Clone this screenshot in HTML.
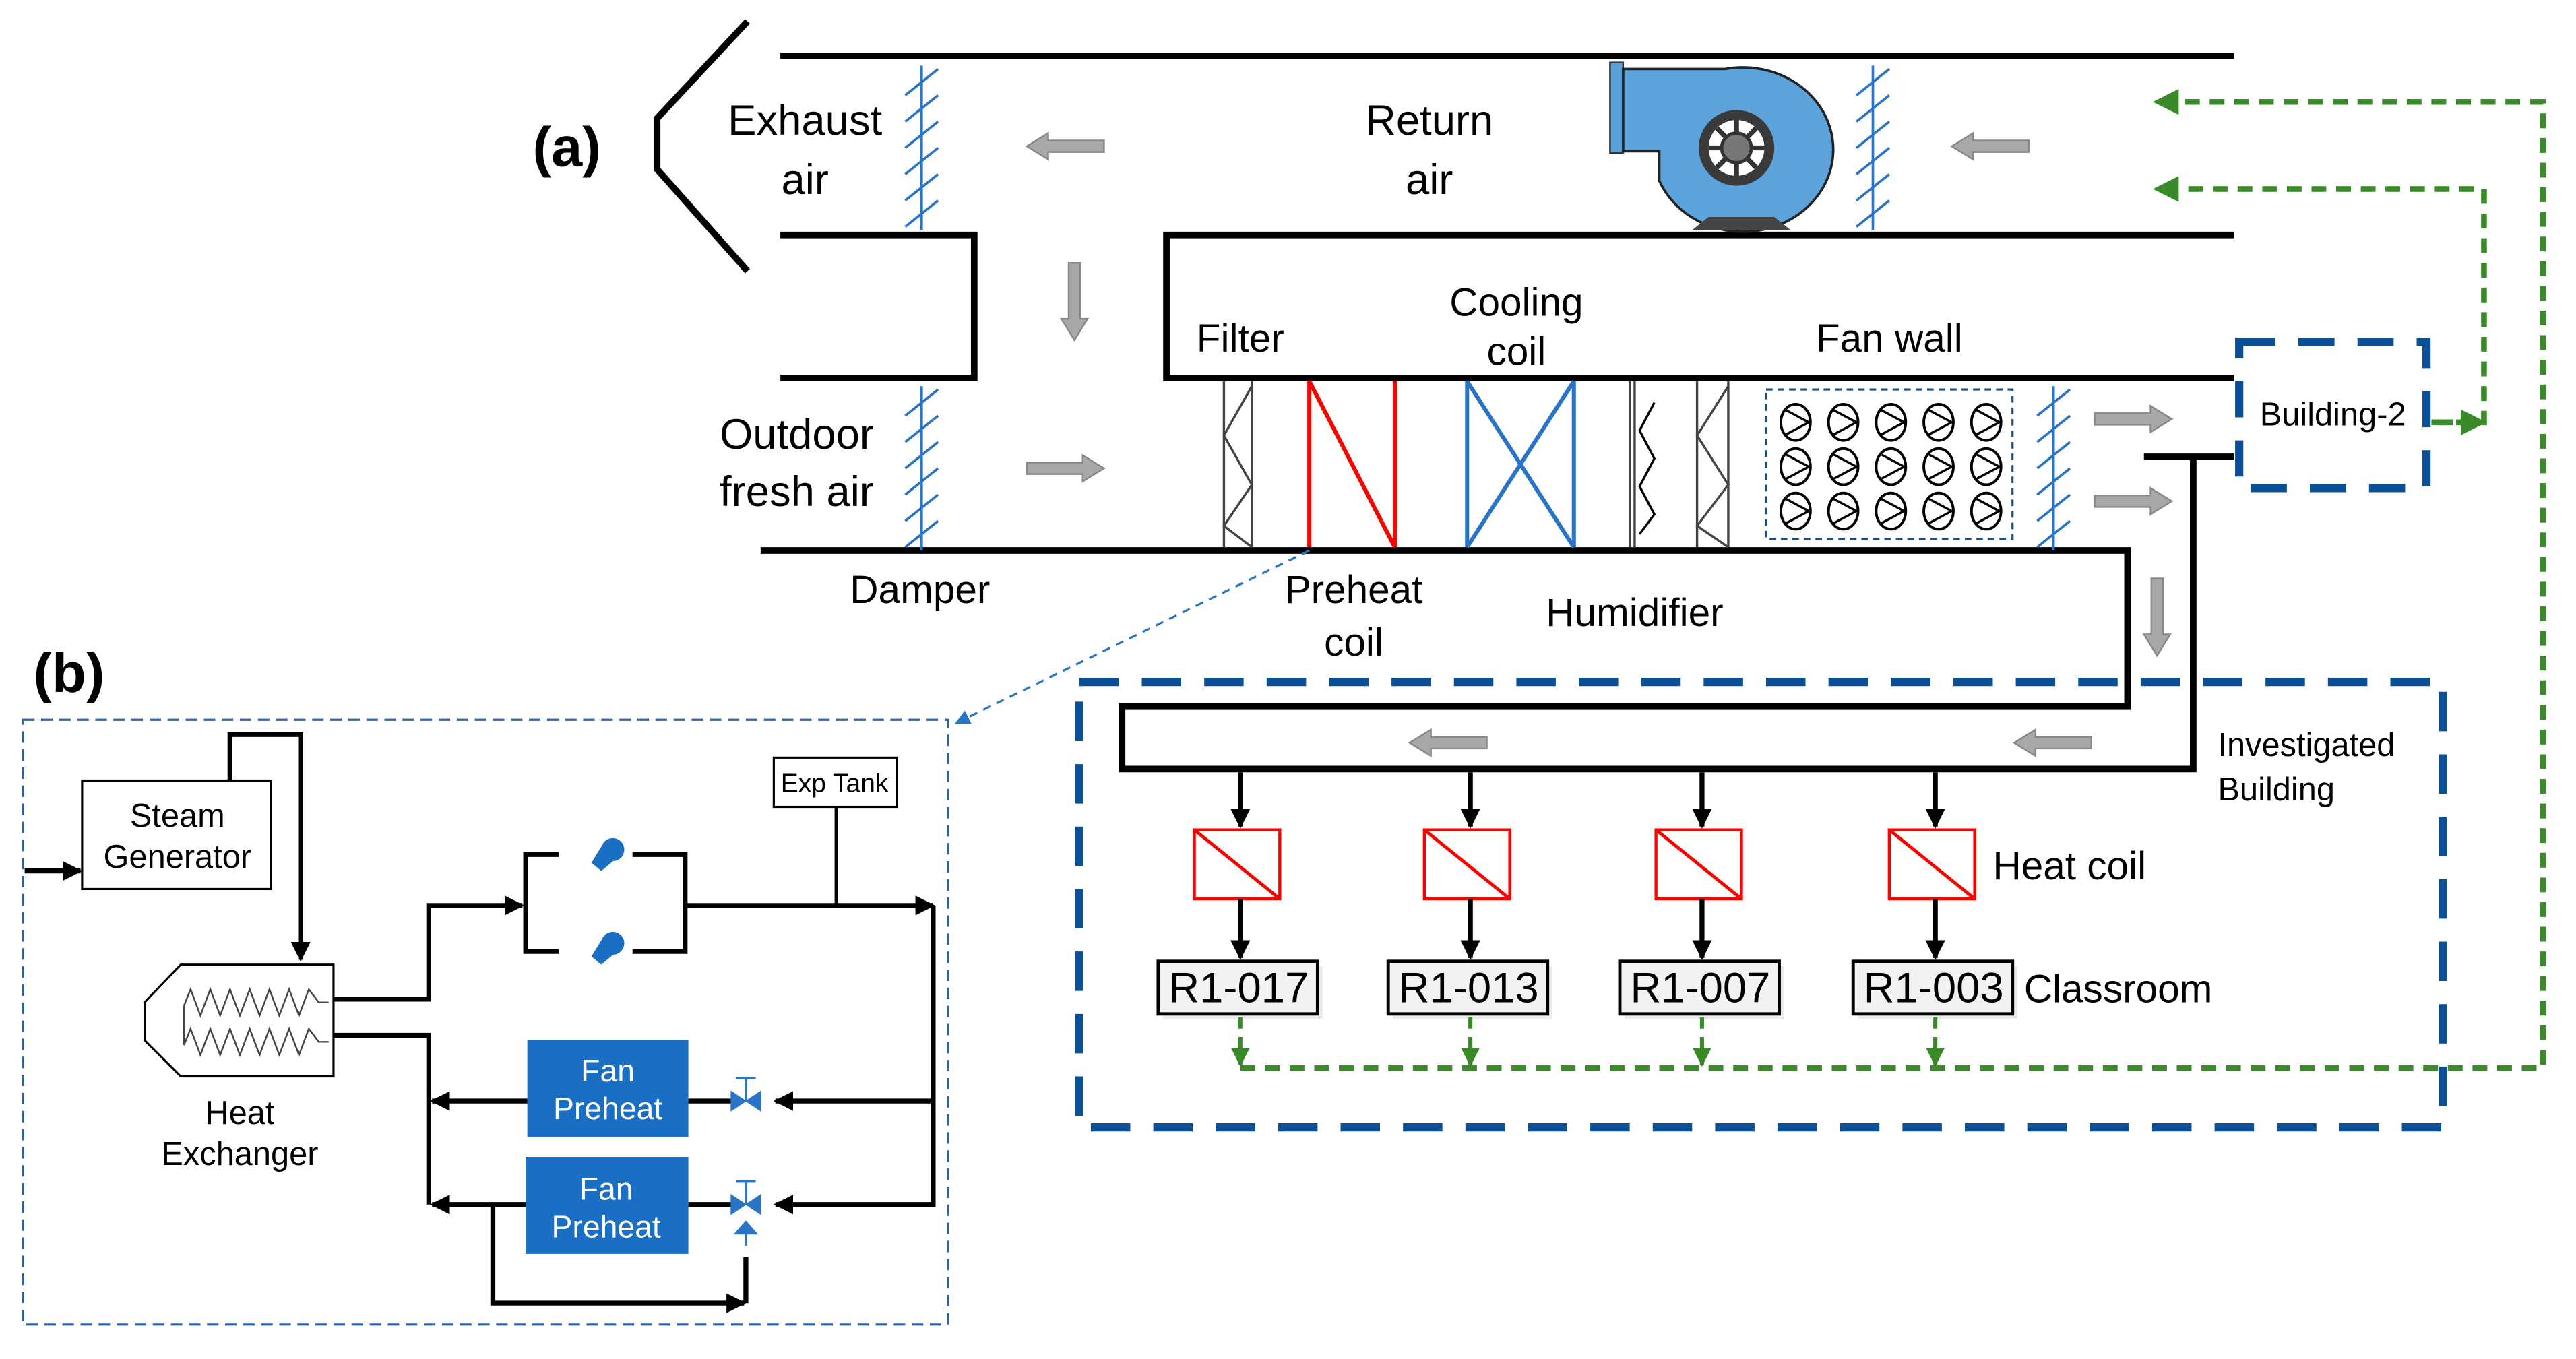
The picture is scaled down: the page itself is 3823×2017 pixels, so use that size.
<!DOCTYPE html>
<html><head><meta charset="utf-8"><style>html,body{margin:0;padding:0;background:#fff}svg{display:block}text{font-family:"Liberation Sans",Arial,sans-serif}</style></head><body>
<svg width="3823" height="2017" viewBox="0 0 1568 827" preserveAspectRatio="none" xmlns="http://www.w3.org/2000/svg">
<defs>
<marker id="ak" viewBox="0 0 10 10" refX="9" refY="5" markerWidth="4" markerHeight="4" orient="auto"><path d="M0,0L10,5L0,10z" fill="#000"/></marker>
<marker id="ag" viewBox="0 0 10 10" refX="9" refY="5" markerWidth="4.5" markerHeight="4.5" orient="auto"><path d="M0,0L10,5L0,10z" fill="#3a8a2a"/></marker>
<marker id="ab" viewBox="0 0 10 10" refX="9" refY="5" markerWidth="7" markerHeight="7" orient="auto"><path d="M0,0L10,5L0,10z" fill="#2a74c8"/></marker>
<g id="ga"><path d="M0,-3.5H34V-8L47,0L34,8V3.5H0Z" fill="#a8a8a8" stroke="#888" stroke-width="1"/></g>
<g id="fan"><ellipse cx="0" cy="0" rx="9" ry="11" fill="none" stroke="#000" stroke-width="1.6"/><path d="M-7,-8L8,0L-7,8" fill="none" stroke="#000" stroke-width="1.4"/></g>
<g id="dmp"><line x1="0" y1="0" x2="0" y2="100" stroke="#2a74c8" stroke-width="1.5"/><g stroke="#2a74c8" stroke-width="1.5"><line x1="-10" y1="18" x2="10" y2="2"/><line x1="-10" y1="34" x2="10" y2="18"/><line x1="-10" y1="50" x2="10" y2="34"/><line x1="-10" y1="66" x2="10" y2="50"/><line x1="-10" y1="82" x2="10" y2="66"/><line x1="-10" y1="98" x2="10" y2="82"/></g></g>
</defs>
<rect width="1568" height="827" fill="#fff"/>

<g stroke="#000" stroke-width="4" fill="none">
<polyline points="455,13 400,72 400,103 455,165"/>
<line x1="475" y1="34" x2="1360" y2="34"/>
<polyline points="475,143 593,143 593,230 475,230"/>
<polyline points="1360,143 710,143 710,230 1360,230"/>
<polyline points="463,335 1295,335 1295,430 683,430 683,468 1335,468 1335,278"/>
<line x1="1305" y1="278" x2="1360" y2="278"/>
</g>
<use href="#dmp" x="561" y="40"/>
<use href="#dmp" x="561" y="235"/>
<use href="#dmp" x="1140" y="40"/>
<use href="#dmp" x="1250" y="235"/>

<use href="#ga" transform="translate(672,89) rotate(180)"/>
<use href="#ga" transform="translate(654,160) rotate(90)"/>
<use href="#ga" transform="translate(625,285)"/>
<use href="#ga" transform="translate(1235,89) rotate(180)"/>
<use href="#ga" transform="translate(1275,255)"/>
<use href="#ga" transform="translate(1275,305)"/>
<use href="#ga" transform="translate(1313,352) rotate(90)"/>
<use href="#ga" transform="translate(905,452) rotate(180)"/>
<use href="#ga" transform="translate(1273,452) rotate(180)"/>

<g>
<rect x="980" y="38" width="8" height="55" fill="#5a9fd8" stroke="#333" stroke-width="1"/>
<path d="M988,42 H1050 A55,50 0 1 1 1010,110 L1010,92 H988 Z" fill="#5ca3dc" stroke="#222" stroke-width="1.5"/>
<path d="M1030,140 L1040,132 H1080 L1090,140 Z" fill="#444"/>
<circle cx="1057" cy="90" r="23" fill="#3a3a3a"/>
<circle cx="1057" cy="90" r="17" fill="#fff"/>
<g stroke="#333" stroke-width="3"><line x1="1057" y1="73" x2="1057" y2="107"/><line x1="1040" y1="90" x2="1074" y2="90"/><line x1="1045" y1="78" x2="1069" y2="102"/><line x1="1069" y1="78" x2="1045" y2="102"/></g>
<circle cx="1057" cy="90" r="9" fill="#777" stroke="#333" stroke-width="2"/>
</g>

<g stroke="#444" stroke-width="1.4" fill="none">
<line x1="745" y1="232" x2="745" y2="333"/><line x1="762" y1="232" x2="762" y2="333"/>
<polyline points="762,235 745,265 762,295 745,320 762,333"/>
<line x1="992" y1="232" x2="992" y2="333"/><line x1="995" y1="232" x2="995" y2="333"/>
<polyline points="1007,245 998,262 1007,279 998,296 1007,313 998,325" stroke="#000"/>
<line x1="1033" y1="232" x2="1033" y2="333"/><line x1="1052" y1="232" x2="1052" y2="333"/>
<polyline points="1052,235 1033,265 1052,295 1033,320 1052,333"/>
</g>
<g stroke="#f00" stroke-width="2.5" fill="none"><line x1="797" y1="232" x2="797" y2="333"/><line x1="849" y1="232" x2="849" y2="333"/><line x1="797" y1="232" x2="849" y2="333"/></g>
<g stroke="#2a74c8" stroke-width="2.5" fill="none"><line x1="893" y1="232" x2="893" y2="333"/><line x1="958" y1="232" x2="958" y2="333"/><line x1="893" y1="232" x2="958" y2="333"/><line x1="958" y1="232" x2="893" y2="333"/></g>
<rect x="1075" y="237" width="150" height="91" fill="none" stroke="#1a4f8a" stroke-width="1.3" stroke-dasharray="4,3"/>
<g>
<use href="#fan" x="1093" y="257"/><use href="#fan" x="1122" y="257"/><use href="#fan" x="1151" y="257"/><use href="#fan" x="1180" y="257"/><use href="#fan" x="1209" y="257"/>
<use href="#fan" x="1093" y="284"/><use href="#fan" x="1122" y="284"/><use href="#fan" x="1151" y="284"/><use href="#fan" x="1180" y="284"/><use href="#fan" x="1209" y="284"/>
<use href="#fan" x="1093" y="311"/><use href="#fan" x="1122" y="311"/><use href="#fan" x="1151" y="311"/><use href="#fan" x="1180" y="311"/><use href="#fan" x="1209" y="311"/>
</g>

<g font-size="26" text-anchor="middle" fill="#000">
<text x="345" y="101" font-size="34" font-weight="bold">(a)</text>
<text x="490" y="82">Exhaust</text><text x="490" y="118">air</text>
<text x="870" y="82">Return</text><text x="870" y="118">air</text>
<text x="485" y="273">Outdoor</text><text x="485" y="308">fresh air</text>
<text x="755" y="214" font-size="24">Filter</text>
<text x="923" y="192" font-size="24">Cooling</text><text x="923" y="222" font-size="24">coil</text>
<text x="1150" y="214" font-size="24">Fan wall</text>
<text x="560" y="367" font-size="24">Damper</text>
<text x="824" y="367" font-size="24">Preheat</text><text x="824" y="399" font-size="24">coil</text>
<text x="995" y="381" font-size="24">Humidifier</text>
<text x="42" y="421" font-size="34" font-weight="bold">(b)</text>
</g>

<rect x="1363" y="208" width="114" height="89" fill="none" stroke="#0b4f96" stroke-width="5" stroke-dasharray="22,14"/>
<text x="1420" y="259" font-size="20" text-anchor="middle">Building-2</text>
<rect x="657" y="415" width="830" height="271" fill="none" stroke="#0b4f96" stroke-width="5" stroke-dasharray="24,14"/>
<text x="1350" y="460" font-size="20">Investigated</text>
<text x="1350" y="487" font-size="20">Building</text>

<g stroke="#3a8a2a" stroke-width="3.5" fill="none" stroke-dasharray="9,6">
<polyline points="1480,257 1512,257 1512,115 1312,115" marker-end="url(#ag)"/>
<polyline points="755,650 1548,650 1548,62 1312,62" marker-end="url(#ag)"/>
</g>
<line x1="1484" y1="257" x2="1512" y2="257" stroke="#3a8a2a" stroke-width="3.5" stroke-dasharray="9,6" marker-end="url(#ag)"/>

<g font-size="26">
<g id="br">
<line x1="755" y1="470" x2="755" y2="503" stroke="#000" stroke-width="3" marker-end="url(#ak)"/>
<rect x="727" y="505" width="52" height="42" fill="#fff" stroke="#f00" stroke-width="1.8"/>
<line x1="727" y1="505" x2="779" y2="547" stroke="#f00" stroke-width="2"/>
<line x1="755" y1="547" x2="755" y2="583" stroke="#000" stroke-width="3" marker-end="url(#ak)"/>
<rect x="708" y="588" width="97" height="32" fill="#ddd" opacity="0.6"/>
<rect x="705" y="585" width="97" height="32" fill="#f2f2f2" stroke="#000" stroke-width="2"/>
<line x1="755" y1="619" x2="755" y2="648" stroke="#3a8a2a" stroke-width="2.5" stroke-dasharray="7,5" marker-end="url(#ag)"/>
</g>
<use href="#br" x="140"/><use href="#br" x="281"/><use href="#br" x="423"/>
<g text-anchor="middle"><text x="754" y="610">R1-017</text><text x="894" y="610">R1-013</text><text x="1035" y="610">R1-007</text><text x="1177" y="610">R1-003</text></g>
<text x="1213" y="535" font-size="24">Heat coil</text>
<text x="1232" y="610" font-size="24">Classroom</text>
</g>

<line x1="797" y1="335" x2="582" y2="440" stroke="#2a74c8" stroke-width="1.3" stroke-dasharray="5,4" marker-end="url(#ab)"/>
<rect x="14" y="438" width="563" height="368" fill="none" stroke="#2a64a8" stroke-width="1.3" stroke-dasharray="7,4"/>

<g stroke="#000" stroke-width="3" fill="none">
<line x1="15" y1="530" x2="49" y2="530" marker-end="url(#ak)"/>
<polyline points="140,475 140,447 183,447 183,584" marker-end="url(#ak)"/>
<polyline points="203,608 261,608 261,551 318,551" marker-end="url(#ak)"/>
<polyline points="340,520 320,520 320,579 340,579"/>
<polyline points="385,520 417,520 417,579 385,579"/>
<line x1="417" y1="551" x2="568" y2="551" marker-end="url(#ak)"/>
<line x1="509" y1="491" x2="509" y2="551" stroke-width="2"/>
<polyline points="568,551 568,733 472,733" marker-end="url(#ak)"/>
<line x1="568" y1="670" x2="472" y2="670" marker-end="url(#ak)"/>
<polyline points="203,630 261,630 261,733"/>
<line x1="321" y1="670" x2="263" y2="670" marker-end="url(#ak)"/>
<line x1="320" y1="733" x2="263" y2="733" marker-end="url(#ak)"/>
<line x1="419" y1="670" x2="445" y2="670"/>
<line x1="419" y1="733" x2="445" y2="733"/>
<polyline points="300,733 300,793 453,793" marker-end="url(#ak)"/>
<line x1="454" y1="793" x2="454" y2="765"/>
</g>
<rect x="50" y="475" width="115" height="66" fill="#fff" stroke="#000" stroke-width="1.3"/>
<text x="108" y="503" font-size="20" text-anchor="middle">Steam</text>
<text x="108" y="528" font-size="20" text-anchor="middle">Generator</text>
<rect x="471" y="461" width="75" height="30" fill="#fff" stroke="#000" stroke-width="1.3"/>
<text x="508" y="482" font-size="16" text-anchor="middle">Exp Tank</text>
<polygon points="110,587 203,587 203,655 110,655 88,633 88,610" fill="#fff" stroke="#000" stroke-width="1.3"/>
<g stroke="#444" stroke-width="1" fill="none">
<polyline points="112,612 116,602 122,618 128,602 134,618 140,602 146,618 152,602 158,618 164,602 170,618 176,602 182,618 188,602 194,610 200,610"/>
<polyline points="112,636 116,626 122,642 128,626 134,642 140,626 146,642 152,626 158,642 164,626 170,642 176,626 182,642 188,626 194,634 200,634"/>
<line x1="112" y1="612" x2="112" y2="636"/>
</g>
<text x="146" y="684" font-size="20" text-anchor="middle">Heat</text>
<text x="146" y="709" font-size="20" text-anchor="middle">Exchanger</text>
<g fill="#1a6fc4">
<circle cx="373" cy="517" r="7"/><polygon points="360,525 368,512 378,520 366,530"/>
<circle cx="373" cy="574" r="7"/><polygon points="360,582 368,569 378,577 366,587"/>
</g>
<rect x="321" y="633" width="98" height="59" fill="#1a6fc4"/>
<rect x="320" y="704" width="99" height="59" fill="#1a6fc4"/>
<g fill="#fff" font-size="19" text-anchor="middle"><text x="370" y="658">Fan</text><text x="370" y="681">Preheat</text><text x="369" y="730">Fan</text><text x="369" y="753">Preheat</text></g>
<g fill="#2a74c8" stroke="#2a74c8">
<polygon points="445,664 454,670 445,676" stroke-width="0.5"/><polygon points="463,664 454,670 463,676" stroke-width="0.5"/>
<line x1="454" y1="670" x2="454" y2="656" stroke-width="1.5"/><line x1="448" y1="656" x2="460" y2="656" stroke-width="1.5"/>
<polygon points="445,727 454,733 445,739" stroke-width="0.5"/><polygon points="463,727 454,733 463,739" stroke-width="0.5"/>
<line x1="454" y1="733" x2="454" y2="719" stroke-width="1.5"/><line x1="448" y1="719" x2="460" y2="719" stroke-width="1.5"/>
<polygon points="447,751 454,743 461,751" stroke-width="0.5"/><line x1="454" y1="751" x2="454" y2="758" stroke-width="1.5"/>
</g>
</svg>
</body></html>
